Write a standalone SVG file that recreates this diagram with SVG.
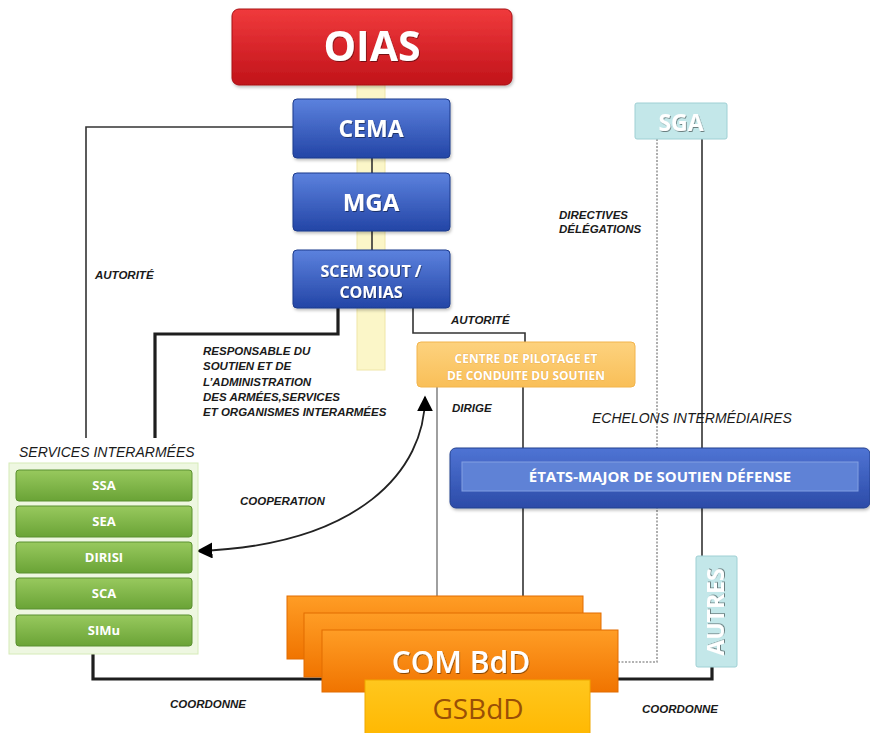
<svg xmlns="http://www.w3.org/2000/svg" width="870" height="733" viewBox="0 0 870 733">
<defs>
  <linearGradient id="gRed" x1="0" y1="0" x2="0" y2="1"><stop offset="0" stop-color="#f03a3c"/><stop offset="1" stop-color="#c1131a"/></linearGradient>
  <linearGradient id="gBlue" x1="0" y1="0" x2="0" y2="1"><stop offset="0" stop-color="#5c82de"/><stop offset="1" stop-color="#2345a6"/></linearGradient>
  <linearGradient id="gBlue2" x1="0" y1="0" x2="0" y2="1"><stop offset="0" stop-color="#4f74d4"/><stop offset="1" stop-color="#2c4ba8"/></linearGradient>
  <linearGradient id="gGreen" x1="0" y1="0" x2="0" y2="1"><stop offset="0" stop-color="#98c95e"/><stop offset="1" stop-color="#6aa336"/></linearGradient>
  <linearGradient id="gOrange" x1="0" y1="0" x2="0" y2="1"><stop offset="0" stop-color="#ff9d25"/><stop offset="1" stop-color="#f07400"/></linearGradient>
  <linearGradient id="gGold" x1="0" y1="0" x2="0" y2="1"><stop offset="0" stop-color="#ffc71e"/><stop offset="1" stop-color="#ffb700"/></linearGradient>
  <linearGradient id="gPale" x1="0" y1="0" x2="0" y2="1"><stop offset="0" stop-color="#fdd27e"/><stop offset="1" stop-color="#f9bf58"/></linearGradient>
  <filter id="sh" x="-10%" y="-10%" width="120%" height="130%"><feDropShadow dx="1" dy="2" stdDeviation="1.5" flood-color="#000" flood-opacity="0.25"/></filter>
  <filter id="tsh" x="-10%" y="-20%" width="120%" height="140%"><feDropShadow dx="0.8" dy="1" stdDeviation="0.6" flood-color="#000" flood-opacity="0.45"/></filter>
  <marker id="ah2" viewBox="0 0 10 10" refX="9" refY="5" markerWidth="16" markerHeight="16" orient="auto-start-reverse" markerUnits="userSpaceOnUse">
    <path d="M0,0 L10,5 L0,10 z" fill="#000"/>
  </marker>
</defs>
<style>
  .box { font-family: "Open Sans", "DejaVu Sans", sans-serif; font-weight: bold; fill: #ffffff; text-anchor: middle; }
  .lbl { font-family: "Liberation Sans", Arial, sans-serif; font-weight: bold; font-style: italic; font-size: 11.5px; fill: #1a1a1a; }
  .big { font-family: "Liberation Sans", Arial, sans-serif; font-style: italic; font-size: 14px; fill: #1a1a1a; }
  .ln { fill: none; stroke: #333; stroke-width: 1.6; }
  .thick { fill: none; stroke: #1e1e1e; stroke-width: 3.2; }
  .grey { fill: none; stroke: #777; stroke-width: 1.4; }
  .dot { fill: none; stroke: #999; stroke-width: 1.6; stroke-dasharray: 2 1.5; }
  .blue { fill: url(#gBlue); stroke: #1d3a8c; stroke-width: 1; }
  .green { fill: url(#gGreen); stroke: #5b9030; stroke-width: 1; }
  .orange { fill: url(#gOrange); stroke: #e26c00; stroke-width: 1; }
  .cyan { fill: #c3e7e9; stroke: #9fd0d4; stroke-width: 1; }
</style>
<rect width="870" height="733" fill="#ffffff"/>

<!-- yellow axis band -->
<rect x="357" y="84" width="28" height="286" fill="#fbf6c8" stroke="#efe6a8" stroke-width="1"/>

<g id="connectors">
  <line class="ln" x1="372" y1="158" x2="372" y2="173"/>
  <line class="ln" x1="372" y1="231" x2="372" y2="250"/>
  <polyline class="ln" points="293,127 86,127 86,438"/>
  <polyline class="thick" points="338,308 338,334 155,334 155,438"/>
  <polyline class="ln" points="413,308 413,333 525,333 525,342"/>
  <line class="ln" x1="523" y1="387" x2="523" y2="597"/>
  <line class="grey" x1="437" y1="387" x2="437" y2="597"/>
  <polyline class="dot" points="657,139 657,662 618,662"/>
  <line class="ln" x1="702" y1="139" x2="702" y2="556"/>
  <polyline class="thick" points="93,652 93,679 322,679"/>
  <polyline class="thick" points="712,667 712,679 616,679"/>
  <path d="M425,397 C425,470 360,545 198,551" fill="none" stroke="#222" stroke-width="1.8" marker-start="url(#ah2)" marker-end="url(#ah2)"/>
</g>

<g id="oias"><rect x="232" y="9" width="280" height="76" rx="7" fill="url(#gRed)" stroke="#a81015" filter="url(#sh)"/>
  <text class="box" x="372" y="61" font-size="41" font-weight="600" filter="url(#tsh)">OIAS</text></g>
<g id="cema"><rect class="blue" x="293" y="99" width="157" height="59" rx="4" filter="url(#sh)"/>
  <text class="box" x="371" y="137" font-size="23" filter="url(#tsh)">CEMA</text></g>
<g id="mga"><rect class="blue" x="293" y="173" width="157" height="58" rx="4" filter="url(#sh)"/>
  <text class="box" x="371" y="211" font-size="24" filter="url(#tsh)">MGA</text></g>
<g id="scem"><rect class="blue" x="293" y="250" width="157" height="58" rx="4" filter="url(#sh)"/>
  <text class="box" x="371" y="277" font-size="16" filter="url(#tsh)">SCEM SOUT /</text>
  <text class="box" x="371" y="298" font-size="16" filter="url(#tsh)">COMIAS</text></g>

<g id="sga"><rect class="cyan" x="635" y="103" width="92" height="36" rx="2"/>
  <text class="box" x="681" y="131" font-size="23" font-weight="600" filter="url(#tsh)">SGA</text></g>

<g id="centre"><rect x="417" y="342" width="218" height="45" rx="4" fill="url(#gPale)" stroke="#f2b44c"/>
  <text class="box" x="526" y="363" font-size="12" fill="#fff7e6" stroke="#e7a23c" stroke-width="0.5" paint-order="stroke">CENTRE DE PILOTAGE ET</text>
  <text class="box" x="526" y="380" font-size="12" fill="#fff7e6" stroke="#e7a23c" stroke-width="0.5" paint-order="stroke">DE CONDUITE DU SOUTIEN</text></g>

<g id="etats"><rect x="450" y="448" width="420" height="60" rx="6" fill="url(#gBlue2)" stroke="#23408f" filter="url(#sh)"/>
  <rect x="462" y="462" width="396" height="29" fill="#5f82d6" stroke="#839fe2" stroke-width="1"/>
  <text class="box" x="660" y="482" font-size="15" font-weight="600">ÉTATS-MAJOR DE SOUTIEN DÉFENSE</text></g>

<g id="services">
  <rect x="9" y="463" width="189" height="191" fill="#eef7e1" stroke="#d6ebb8"/>
  <text class="big" x="19" y="457" font-size="14">SERVICES INTERARMÉES</text>
</g>
<g id="ssa"><rect class="green" x="16" y="470" width="176" height="31" rx="3"/><text class="box" x="104" y="490" font-size="13">SSA</text></g>
<g id="sea"><rect class="green" x="16" y="506" width="176" height="31" rx="3"/><text class="box" x="104" y="526" font-size="13">SEA</text></g>
<g id="dirisi"><rect class="green" x="16" y="542" width="176" height="31" rx="3"/><text class="box" x="104" y="562" font-size="13">DIRISI</text></g>
<g id="sca"><rect class="green" x="16" y="578" width="176" height="31" rx="3"/><text class="box" x="104" y="598" font-size="13">SCA</text></g>
<g id="simu"><rect class="green" x="16" y="615" width="176" height="31" rx="3"/><text class="box" x="104" y="635" font-size="13">SIMu</text></g>

<g id="autres"><rect class="cyan" x="696" y="556" width="41" height="111" rx="2"/>
  <text class="box" transform="translate(724,612) rotate(-90)" x="0" y="0" font-size="23" font-weight="600" filter="url(#tsh)">AUTRES</text></g>

<g id="combdd">
  <rect class="orange" x="287" y="596" width="296" height="63"/>
  <rect class="orange" x="304" y="613" width="297" height="64"/>
  <rect class="orange" x="322" y="630" width="296" height="62"/>
  <text x="461" y="673" font-family="Open Sans, DejaVu Sans, sans-serif" font-size="30" font-weight="600" fill="#ffffff" text-anchor="middle" filter="url(#tsh)">COM BdD</text>
</g>
<g id="gsbdd"><rect x="365" y="680" width="225" height="60" fill="url(#gGold)" stroke="#f0a800"/>
  <text x="478" y="719" font-family="Open Sans, DejaVu Sans, sans-serif" font-size="28" font-weight="normal" fill="#9a4f06" text-anchor="middle">GSBdD</text></g>

<g id="labels">
  <text class="lbl" x="95" y="279">AUTORITÉ</text>
  <text class="lbl" x="203" y="355">RESPONSABLE DU</text>
  <text class="lbl" x="203" y="370">SOUTIEN  ET DE</text>
  <text class="lbl" x="203" y="386">L’ADMINISTRATION</text>
  <text class="lbl" x="203" y="401">DES ARMÉES,SERVICES</text>
  <text class="lbl" x="203" y="416">ET ORGANISMES INTERARMÉES</text>
  <text class="lbl" x="451" y="324">AUTORITÉ</text>
  <text class="lbl" x="452" y="412">DIRIGE</text>
  <text class="lbl" x="559" y="219">DIRECTIVES</text>
  <text class="lbl" x="559" y="233">DÉLÉGATIONS</text>
  <text class="lbl" x="240" y="505">COOPERATION</text>
  <text class="lbl" x="170" y="708">COORDONNE</text>
  <text class="lbl" x="642" y="713">COORDONNE</text>
  <text class="big" x="592" y="423" font-size="14.5">ECHELONS INTERMÉDIAIRES</text>
</g>
</svg>
